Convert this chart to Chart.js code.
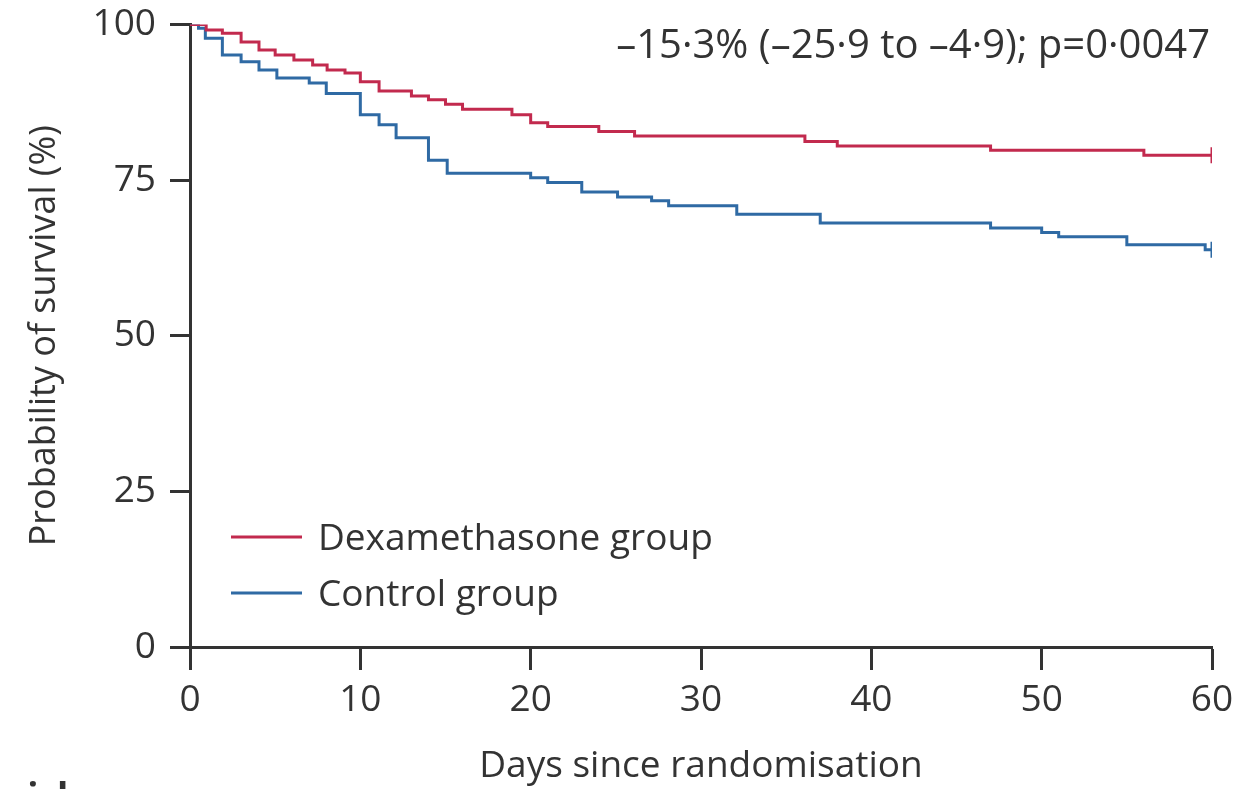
<!DOCTYPE html>
<html><head><meta charset="utf-8">
<script src="https://cdn.jsdelivr.net/npm/chart.js@4.4.1/dist/chart.umd.min.js"></script>
<style>html,body{margin:0;padding:0;background:#fff;}#wrap{width:1260px;height:789px;position:relative;overflow:hidden}</style>
</head><body><div id="wrap"><canvas id="c" width="1260" height="789"></canvas></div>
<script>
// ---- data ----
const dexDays = [0, 0.95, 1.9, 3.0, 4.05, 5.0, 6.1, 7.2, 8.05, 9.1, 10.0, 11.1, 13.0, 14.0, 15.0, 16.0, 18.9, 20.0, 21.0, 24.0, 26.1, 36.1, 38.0, 47.0, 56.0, 60];
const dexSurv = [100, 99.1, 98.6, 97.2, 95.9, 95.1, 94.3, 93.5, 92.7, 92.2, 90.8, 89.3, 88.5, 87.9, 87.2, 86.4, 85.5, 84.2, 83.6, 82.8, 82.1, 81.2, 80.5, 79.8, 79.0, 79.0];
const ctlDays = [0, 0.5, 0.9, 1.9, 3.0, 4.05, 5.1, 7.0, 8.0, 10.0, 11.1, 12.1, 14.0, 15.1, 20.0, 21.0, 23.0, 25.1, 27.1, 28.1, 32.1, 37.0, 47.0, 50.0, 51.0, 55.0, 59.6, 60];
const ctlSurv = [100, 99.4, 97.8, 95.1, 94.0, 92.7, 91.4, 90.6, 88.9, 85.5, 83.9, 81.8, 78.2, 76.1, 75.4, 74.6, 73.1, 72.3, 71.7, 70.9, 69.5, 68.1, 67.3, 66.6, 65.9, 64.6, 63.8, 63.8];
const xTicks = [0, 10, 20, 30, 40, 50, 60];
const yTicks = [0, 25, 50, 75, 100];
const seriesLabels = ['Dexamethasone group', 'Control group'];
const seriesColors = ['#c22a4e', '#2f6aa4'];
const annotationText = '\u201315\u00b73% (\u201325\u00b79 to \u20134\u00b79); p=0\u00b70047';
const xTitle = 'Days since randomisation';
const yTitle = 'Probability of survival (%)';
const riskTitle = 'Number at risk';

const FONT = '"Open Sans", "Noto Sans", sans-serif';
const TXT = '#333333';

function pts(xs, ys) { return xs.map((x, i) => ({x: x, y: ys[i]})); }
function lastOnly(n, r) { return Array.from({length: n}, (_, i) => i === n - 1 ? r : 0); }

const overlay = {
  id: 'overlay',
  afterDraw(chart) {
    const ctx = chart.ctx;
    ctx.save();
    // annotation
    ctx.fillStyle = TXT;
    ctx.font = '40px ' + FONT;
    ctx.textAlign = 'right';
    ctx.textBaseline = 'alphabetic';
    ctx.fillText(annotationText, 1210, 58);
    // legend
    const lx0 = 231, lx1 = 302, tx = 318;
    const rows = [537, 593];
    chart.data.datasets.forEach((ds, i) => {
      ctx.strokeStyle = ds.borderColor;
      ctx.lineWidth = 3;
      ctx.beginPath();
      ctx.moveTo(lx0, rows[i]); ctx.lineTo(lx1, rows[i]);
      ctx.stroke();
      ctx.fillStyle = TXT;
      ctx.font = '37px ' + FONT;
      ctx.textAlign = 'left';
      ctx.textBaseline = 'middle';
      ctx.fillText(ds.label, tx, rows[i] + 2);
    });
    // cut-off "Number at risk" heading (only tops visible)
    ctx.font = 'bold 37px ' + FONT;
    ctx.textAlign = 'right';
    ctx.textBaseline = 'alphabetic';
    ctx.fillStyle = TXT;
    ctx.fillText(riskTitle, 80, 810);
    ctx.restore();
  }
};

function noPad(s) { s.paddingTop = 0; s.paddingBottom = 0; s.paddingLeft = 0; s.paddingRight = 0; }

new Chart(document.getElementById('c'), {
  type: 'line',
  data: {
    datasets: [
      {label: seriesLabels[0], data: pts(dexDays, dexSurv), borderColor: seriesColors[0], backgroundColor: seriesColors[0],
       borderWidth: 3, stepped: 'before', pointStyle: 'line', rotation: 90, pointRadius: lastOnly(dexDays.length, 8),
       pointBorderWidth: 3, pointHoverRadius: 0, fill: false},
      {label: seriesLabels[1], data: pts(ctlDays, ctlSurv), borderColor: seriesColors[1], backgroundColor: seriesColors[1],
       borderWidth: 3, stepped: 'before', pointStyle: 'line', rotation: 90, pointRadius: lastOnly(ctlDays.length, 8),
       pointBorderWidth: 3, pointHoverRadius: 0, fill: false}
    ]
  },
  options: {
    responsive: false,
    animation: false,
    devicePixelRatio: 1,
    layout: {padding: {left: 0, right: 48, top: 24.5, bottom: 0}},
    plugins: {legend: {display: false}, tooltip: {enabled: false}},
    scales: {
      x: {
        type: 'linear', min: 0, max: 60,
        afterBuildTicks: s => { s.ticks = xTicks.map(v => ({value: v})); },
        afterFit: s => { s.height = 142; noPad(s); },
        ticks: {color: TXT, font: {family: FONT, size: 37}, padding: 8},
        grid: {drawOnChartArea: false, drawTicks: true, tickLength: 23, tickWidth: 3, tickColor: '#333'},
        border: {display: true, width: 3, color: '#333'},
        title: {display: true, text: xTitle, color: TXT, font: {family: FONT, size: 37}, padding: {top: 0, bottom: 0}}
      },
      y: {
        type: 'linear', min: 0, max: 100,
        afterBuildTicks: s => { s.ticks = yTicks.map(v => ({value: v})); },
        afterFit: s => { s.width = 190; noPad(s); },
        ticks: {color: TXT, font: {family: FONT, size: 37}, padding: 14},
        grid: {drawOnChartArea: false, drawTicks: true, tickLength: 20, tickWidth: 3, tickColor: '#333'},
        border: {display: true, width: 3, color: '#333'},
        title: {display: true, text: yTitle, color: TXT, font: {family: FONT, size: 36}, padding: {top: 23, bottom: 0}}
      }
    }
  },
  plugins: [overlay]
});
</script></body></html>
